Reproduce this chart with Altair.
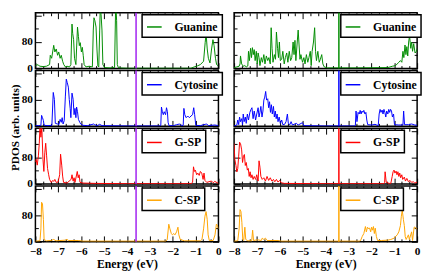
import altair as alt
import pandas as pd

FONT = "Liberation Serif"
NAMES = ["Guanine", "Cytosine", "G-SP", "C-SP"]
COLORS = ["#008c00", "#0000ff", "#ff0000", "#ffa500"]
FERMI_LEFT = -3.6
FERMI_RIGHT = -3.42
FERMI_LEFT_COLOR = "#a020f0"

# ---------------- left column ----------------
LG_E = [-8.0, -7.94, -7.87, -7.80, -7.66, -7.52, -7.38, -7.35, -7.29, -7.20, -7.15, -7.09, -7.03, -6.98, -6.92,
        -6.87, -6.81, -6.76, -6.69, -6.62, -6.51, -6.45, -6.40, -6.37, -6.33, -6.29, -6.23, -6.16, -6.12, -6.08,
        -6.04, -5.99, -5.95, -5.91, -5.87, -5.79, -5.65, -5.51, -5.47, -5.44, -5.40, -5.35, -5.31, -5.27, -5.23,
        -5.19, -5.16, -5.13, -5.09, -5.05, -4.98, -4.74, -4.54, -4.49, -4.45, -4.42, -4.37, -3.98, -2.59, -1.20,
        -1.06, -0.92, -0.79, -0.65, -0.58, -0.54, -0.49, -0.44, -0.37, -0.30, -0.24, -0.19, -0.13, -0.08, 0.0]
LG_P = [7, 12, 10, 7, 6, 7, 12, 40, 31, 70, 50, 59, 40, 50, 31, 40, 22, 12, 5, 7,
        5, 12, 134, 106, 87, 31, 12, 125, 97, 69, 78, 50, 64, 40, 12, 5, 7, 5, 116, 153,
        144, 125, 59, 8, 5, 116, 200, 163, 116, 12, 3, 2, 3, 200, 144, 12, 2, 1, 1, 1,
        5, 8, 12, 22, 78, 106, 59, 31, 17, 59, 87, 69, 31, 12, 8]

LC_E = [-8.0, -7.87, -7.76, -7.73, -7.69, -7.65, -7.62, -7.45, -7.28, -7.22, -7.17, -7.13, -7.03, -6.97, -6.92,
        -6.87, -6.83, -6.79, -6.74, -6.69, -6.65, -6.61, -6.56, -6.52, -6.48, -6.45, -6.40, -6.35, -6.31, -6.27,
        -6.23, -6.20, -6.16, -6.12, -6.06, -6.02, -5.92, -5.72, -5.45, -5.41, -5.30, -5.19, -5.09, -3.98, -2.59,
        -2.52, -2.49, -2.45, -2.41, -2.37, -2.31, -2.27, -2.23, -2.20, -2.16, -1.97, -1.83, -1.69, -1.62, -1.54,
        -1.51, -1.47, -1.41, -1.34, -1.27, -1.20, -1.13, -1.08, -1.04, -0.99, -0.79, -0.58, -0.51, -0.44, -0.16, 0.0]
LC_P = [2, 2, 3, 33, 26, 17, 3, 2, 3, 102, 81, 9, 7, 5, 21, 12, 26, 7, 17, 91,
        142, 132, 118, 81, 54, 26, 100, 81, 35, 54, 26, 58, 44, 21, 12, 7, 3, 2, 7, 5,
        2, 6, 2, 1, 1, 3, 58, 44, 35, 44, 35, 56, 44, 12, 2, 2, 5, 7, 2, 3,
        54, 35, 26, 31, 26, 31, 35, 56, 35, 3, 2, 6, 7, 2, 4, 2]

LGS_E = [-8.0, -7.97, -7.92, -7.87, -7.83, -7.80, -7.76, -7.72, -7.67, -7.63, -7.59, -7.55, -7.51, -7.47, -7.42,
         -7.38, -7.31, -7.24, -7.20, -7.15, -7.09, -7.01, -6.94, -6.90, -6.85, -6.81, -6.77, -6.62, -6.44, -6.40,
         -6.35, -6.31, -6.27, -6.17, -6.13, -6.09, -6.05, -5.92, -5.37, -3.98, -1.20, -1.13, -1.09, -1.05, -1.01,
         -0.95, -0.90, -0.84, -0.79, -0.73, -0.67, -0.63, -0.59, -0.51, -0.37, -0.30, -0.23, -0.16, 0.0]
LGS_P = [66, 75, 57, 85, 123, 175, 141, 172, 75, 38, 94, 123, 85, 47, 28, 14, 5, 11, 8, 14,
         5, 6, 28, 90, 57, 24, 5, 3, 14, 28, 9, 19, 5, 38, 19, 28, 5, 3, 2, 1,
         1, 5, 52, 38, 42, 28, 33, 26, 38, 33, 14, 33, 11, 5, 8, 9, 4, 8, 2]

LCS_E = [-8.0, -7.80, -7.76, -7.73, -7.69, -7.65, -7.62, -7.52, -7.31, -7.20, -7.10, -6.69, -6.62, -6.55, -6.13,
         -5.92, -3.98, -2.31, -2.24, -2.17, -2.12, -2.06, -2.01, -1.95, -1.90, -1.83, -1.77, -1.73, -1.67, -1.48,
         -0.79, -0.72, -0.65, -0.59, -0.54, -0.49, -0.45, -0.40, -0.23, -0.15, -0.09, -0.04, 0.0]
LCS_P = [2, 3, 39, 119, 114, 67, 7, 3, 4, 7, 3, 5, 7, 4, 4, 2, 2, 2, 6, 53,
         39, 25, 21, 25, 21, 30, 44, 21, 7, 3, 3, 7, 39, 77, 91, 67, 21, 4, 4, 21,
         53, 49, 39]

# ---------------- right column ----------------
RG_E = [-8.0, -7.88, -7.78, -7.74, -7.72, -7.67, -7.60, -7.53, -7.47, -7.40, -7.37, -7.33, -7.28, -7.24, -7.20,
        -7.16, -7.12, -7.08, -7.03, -6.99, -6.95, -6.91, -6.87, -6.81, -6.76, -6.70, -6.65, -6.59, -6.53, -6.48,
        -6.42, -6.38, -6.34, -6.30, -6.24, -6.19, -6.15, -6.10, -6.06, -6.02, -5.98, -5.92, -5.87, -5.81, -5.76,
        -5.70, -5.65, -5.59, -5.53, -5.48, -5.42, -5.38, -5.34, -5.30, -5.24, -5.20, -5.16, -5.12, -5.08, -5.01,
        -4.95, -4.90, -4.84, -4.78, -4.73, -4.67, -4.63, -4.59, -4.53, -4.48, -4.44, -4.40, -4.34, -4.28, -4.23,
        -4.17, -4.12, -4.06, -3.92, -2.67, -1.28, -1.08, -0.94, -0.87, -0.80, -0.73, -0.67, -0.62, -0.58, -0.53,
        -0.49, -0.45, -0.41, -0.37, -0.33, -0.28, -0.24, -0.20, -0.15, -0.09, -0.03, 0.0]
RG_P = [3, 5, 7, 14, 38, 14, 7, 9, 5, 8, 52, 24, 61, 33, 63, 42, 57, 24, 52, 14,
        47, 33, 9, 33, 19, 42, 14, 38, 24, 33, 14, 123, 61, 19, 42, 28, 110, 61, 33, 80,
        24, 28, 52, 14, 33, 47, 19, 52, 24, 33, 80, 42, 85, 24, 80, 116, 71, 28, 42, 19,
        33, 14, 42, 19, 33, 52, 9, 52, 80, 123, 52, 24, 52, 19, 28, 42, 14, 5, 2, 2,
        3, 7, 9, 14, 19, 24, 19, 52, 33, 71, 42, 66, 38, 80, 99, 61, 80, 52, 75, 47,
        52, 61]

RC_E = [-8.0, -7.88, -7.84, -7.80, -7.76, -7.72, -7.67, -7.63, -7.60, -7.56, -7.51, -7.47, -7.42, -7.37, -7.31,
        -7.26, -7.22, -7.17, -7.12, -7.06, -7.01, -6.95, -6.91, -6.87, -6.83, -6.78, -6.74, -6.70, -6.66, -6.62,
        -6.58, -6.53, -6.49, -6.45, -6.41, -6.37, -6.33, -6.28, -6.24, -6.20, -6.16, -6.12, -6.08, -6.03, -5.98,
        -5.92, -5.87, -5.79, -5.73, -5.67, -5.63, -5.56, -5.51, -5.45, -5.28, -5.20, -5.01, -4.95, -4.06, -2.74,
        -2.70, -2.67, -2.63, -2.58, -2.53, -2.49, -2.45, -2.41, -2.37, -2.33, -2.28, -2.24, -2.20, -2.16, -1.98,
        -1.84, -1.70, -1.66, -1.62, -1.58, -1.53, -1.49, -1.45, -1.41, -1.37, -1.33, -1.28, -1.24, -1.20, -1.16,
        -1.12, -1.08, -1.03, -0.99, -0.80, -0.62, -0.59, -0.55, -0.38, -0.24, -0.10, 0.0]
RC_P = [1, 4, 19, 5, 28, 14, 23, 5, 37, 14, 28, 9, 37, 19, 42, 51, 56, 23, 46, 19,
        37, 56, 28, 42, 60, 28, 46, 79, 88, 105, 79, 83, 56, 74, 42, 65, 37, 60, 28, 46,
        23, 37, 14, 28, 9, 19, 5, 6, 14, 37, 9, 5, 14, 4, 9, 4, 11, 2, 1, 1,
        2, 46, 14, 42, 37, 48, 37, 46, 42, 48, 37, 42, 19, 5, 4, 6, 2, 37, 51, 42,
        49, 37, 51, 42, 28, 46, 37, 51, 42, 51, 46, 28, 37, 5, 4, 4, 46, 5, 5, 7,
        4, 3]

RGS_E = [-8.0, -7.97, -7.92, -7.88, -7.84, -7.80, -7.76, -7.72, -7.67, -7.63, -7.59, -7.55, -7.51, -7.47, -7.42,
         -7.38, -7.34, -7.30, -7.26, -7.22, -7.17, -7.12, -7.06, -7.01, -6.95, -6.91, -6.87, -6.83, -6.77, -6.70,
         -6.63, -6.56, -6.49, -6.42, -6.35, -6.28, -6.22, -6.15, -6.08, -6.01, -5.94, -5.80, -4.06, -1.45, -1.42,
         -1.40, -1.35, -1.22, -1.15, -1.09, -1.05, -1.01, -0.97, -0.92, -0.88, -0.84, -0.80, -0.76, -0.72, -0.67,
         -0.63, -0.56, -0.51, -0.45, -0.38, -0.31, -0.24, -0.17, -0.10, 0.0]
RGS_P = [122, 75, 56, 37, 47, 84, 126, 122, 103, 65, 84, 89, 56, 65, 42, 47, 23, 37, 19, 28,
         14, 23, 14, 28, 9, 70, 51, 23, 14, 19, 9, 23, 11, 19, 9, 14, 7, 14, 6, 11,
         4, 2, 1, 1, 5, 37, 5, 2, 2, 23, 37, 42, 33, 39, 28, 37, 23, 33, 19, 28,
         14, 21, 9, 17, 7, 11, 5, 7, 3, 6]

RCS_E = [-8.0, -7.84, -7.78, -7.74, -7.70, -7.66, -7.62, -7.58, -7.53, -7.49, -7.40, -7.23, -7.19, -7.15, -6.98,
         -6.81, -6.77, -6.70, -6.63, -6.56, -6.08, -5.94, -4.06, -2.53, -2.47, -2.40, -2.33, -2.26, -2.22, -2.17,
         -2.12, -2.08, -2.03, -1.99, -1.95, -1.91, -1.87, -1.83, -1.78, -1.73, -1.56, -1.28, -1.15, -1.01, -0.87,
         -0.80, -0.73, -0.69, -0.65, -0.60, -0.56, -0.52, -0.48, -0.38, -0.34, -0.24, -0.20, -0.13, -0.09, -0.03, 0.0]
RCS_P = [2, 3, 39, 97, 91, 58, 7, 4, 44, 7, 3, 3, 35, 4, 6, 4, 11, 7, 11, 4,
         4, 2, 2, 2, 4, 16, 25, 46, 30, 44, 39, 42, 30, 44, 35, 46, 25, 41, 16, 4,
         4, 5, 7, 11, 21, 30, 49, 77, 95, 67, 49, 16, 7, 21, 7, 30, 4, 44, 44, 39, 39]

X_TICKS = [round(-8 + k / 3, 4) for k in range(25)]
Y_TICKS = [0, 40, 80, 120, 160]
Y_LABELS = [0, 80]
YMAX = 168

W, H = 187, 57
X_MAJOR = "abs(datum.value - round(datum.value)) < 0.01"
Y_MAJOR = "datum.value % 80 == 0"


def tick_axis(orient, offset, values, major):
    return alt.Axis(orient=orient, offset=offset, values=values, labels=False, domain=False,
                    grid=False, title=None, tickColor="black", tickWidth=1,
                    tickSize={"condition": {"test": major, "value": 6}, "value": 3})


def panel(E, P, name, color, fermi, fcolor, left, bottom, ytitle):
    df = pd.DataFrame({"E": E, "P": P, "name": name})
    xs = alt.Scale(domain=[-8, 0], nice=False, zero=False)
    ys = alt.Scale(domain=[0, YMAX], nice=False)

    if bottom:
        xa = alt.Axis(orient="bottom", values=X_TICKS, ticks=False, domain=False, grid=False,
                      labelExpr=X_MAJOR + " ? format(datum.value, 'd') : ''",
                      labelFlush=False, labelOverlap=False, labelPadding=4, labelFontSize=11.5,
                      title="Energy (eV)", titleFontSize=12, titlePadding=2)
    else:
        xa = None
    if left:
        ykw = dict(orient="left", values=Y_LABELS, ticks=False, domain=False, grid=False,
                   labelFlush=False, labelOverlap=False, labelPadding=3, labelFontSize=11.5)
        if ytitle:
            ykw.update(title="PDOS (arb. units)", titleY=H + 1, titleFontSize=11.5,
                       titleAlign="center", titlePadding=1)
        else:
            ykw.update(title=None)
        ya = alt.Axis(**ykw)
    else:
        ya = None

    legend = alt.Legend(title=None, orient="none", legendX=109, legendY=2, symbolType="stroke",
                        symbolSize=225, symbolStrokeWidth=1.5, labelFontSize=12, labelOffset=12,
                        padding=4, strokeColor="black", fillColor="white")

    line = alt.Chart(df).mark_line(strokeWidth=1, clip=True).encode(
        x=alt.X("E:Q", scale=xs, axis=xa),
        y=alt.Y("P:Q", scale=ys, axis=ya),
        color=alt.Color("name:N", scale=alt.Scale(domain=[name], range=[color]), legend=legend),
    )
    ghost = alt.Chart(df).mark_line(opacity=0, clip=True)
    g1 = ghost.encode(
        x=alt.X("E:Q", scale=xs, axis=tick_axis("top", -H, X_TICKS, X_MAJOR)),
        y=alt.Y("P:Q", scale=ys, axis=tick_axis("right", -W, Y_TICKS, Y_MAJOR)),
    )
    g2 = ghost.encode(
        x=alt.X("E:Q", scale=xs, axis=tick_axis("bottom", -H, X_TICKS, X_MAJOR)),
        y=alt.Y("P:Q", scale=ys, axis=tick_axis("left", -W, Y_TICKS, Y_MAJOR)),
    )
    rule = alt.Chart(pd.DataFrame({"E": [fermi]})).mark_rule(color=fcolor, strokeWidth=1.5).encode(
        x=alt.X("E:Q", scale=xs, axis=None)
    )
    return alt.layer(line, rule, g1, g2).resolve_axis(x="independent", y="independent").properties(
        width=W, height=H)


left_data = [(LG_E, LG_P), (LC_E, LC_P), (LGS_E, LGS_P), (LCS_E, LCS_P)]
right_data = [(RG_E, RG_P), (RC_E, RC_P), (RGS_E, RGS_P), (RCS_E, RCS_P)]

left_panels = [panel(e, p, NAMES[i], COLORS[i], FERMI_LEFT, FERMI_LEFT_COLOR, True, i == 3, i == 1)
               for i, (e, p) in enumerate(left_data)]
right_panels = [panel(e, p, NAMES[i], COLORS[i], FERMI_RIGHT, COLORS[i], False, i == 3, False)
                for i, (e, p) in enumerate(right_data)]

left_col = alt.vconcat(*left_panels, spacing=2, bounds="flush").resolve_scale(color="independent")
right_col = alt.vconcat(*right_panels, spacing=2, bounds="flush").resolve_scale(color="independent")

chart = alt.hconcat(left_col, right_col, spacing=3).resolve_scale(
    color="independent").properties(padding=0).configure_view(
    stroke="black", strokeWidth=1.5).configure_axis(
    labelFont=FONT, labelFontWeight="bold", labelColor="black",
    titleFont=FONT, titleFontWeight="bold", titleColor="black").configure_legend(
    labelFont=FONT, labelFontWeight="bold", labelColor="black", strokeWidth=1.5)

chart.save("out.html", embed_options={"renderer": "svg", "actions": False})
